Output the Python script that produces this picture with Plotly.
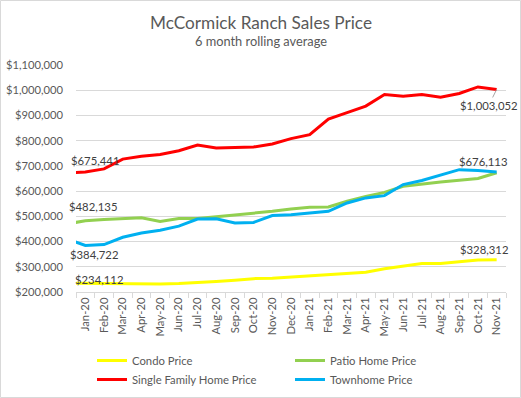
import plotly.graph_objects as go

# ---- data ----
months = ["Dec-19", "Jan-20", "Feb-20", "Mar-20", "Apr-20", "May-20", "Jun-20", "Jul-20",
          "Aug-20", "Sep-20", "Oct-20", "Nov-20", "Dec-20", "Jan-21", "Feb-21", "Mar-21",
          "Apr-21", "May-21", "Jun-21", "Jul-21", "Aug-21", "Sep-21", "Oct-21", "Nov-21"]
condo = [235000, 234112, 233000, 233000, 234000, 232000, 234000, 237000, 242000, 247000,
         253000, 255000, 259000, 265000, 268000, 273000, 278000, 292000, 302000, 313000,
         313000, 321000, 327000, 328312]
patio = [470000, 482135, 487000, 491000, 494000, 480000, 491000, 491000, 498000, 507000,
         511000, 520000, 529000, 536000, 537000, 560000, 579000, 595000, 619000, 628000,
         636000, 643000, 650000, 673000]
single = [672000, 675441, 688000, 727000, 738000, 745000, 760000, 783000, 771000, 774000,
          775000, 787000, 808000, 824000, 886000, 911000, 937000, 983000, 976000, 983000,
          972000, 987000, 1013000, 1003052]
town = [411000, 384722, 388000, 417000, 434000, 445000, 461000, 489000, 490000, 474000,
        476000, 503000, 506000, 512000, 520000, 553000, 573000, 582000, 626000, 642000,
        662000, 685000, 682000, 676113]

series_names = ["Condo Price", "Patio Home Price", "Single Family Home Price", "Townhome Price"]
series_values = [condo, patio, single, town]
colors = ["#FFFF00", "#92D050", "#FF0000", "#00B0F0"]

title = "McCormick Ranch Sales Price"
subtitle = "6 month rolling average"

FONT = "Lato, 'Open Sans', sans-serif"
W, H = 521, 398
ML, MR, MT, MB = 76, 15, 65, 106
PW, PH = W - ML - MR, H - MT - MB

def px_x(px):
    return (px - ML) / PW

def px_y(py):
    return (H - MB - py) / PH

fig = go.Figure()
for name, vals, col in zip(series_names, series_values, colors):
    fig.add_trace(go.Scatter(x=months, y=vals, name=name, mode="lines",
                             line=dict(color=col, width=3)))

LBL = dict(family=FONT, size=11.3, color="#404040")
# data labels: (series index, month index, xshift, yshift, xanchor)
label_specs = [
    (2, 1, -16, 12, "left"),
    (1, 1, -18, 14, "left"),
    (3, 1, -17, -9, "left"),
    (0, 1, -12, 4, "left"),
    (3, 23, 12, 10, "right"),
    (0, 23, 13, 10, "right"),
]
ann = []
for si, mi, xs, ys, xa in label_specs:
    v = series_values[si][mi]
    ann.append(dict(x=months[mi], y=v, xref="x", yref="y", text=f"${v:,.0f}",
                    showarrow=False, xanchor=xa, yanchor="middle", xshift=xs, yshift=ys,
                    font=LBL))
# single family end label with leader line
v = single[-1]
ann.append(dict(x=months[-1], y=v, xref="x", yref="y", text=f"${v:,.0f}",
                showarrow=True, arrowhead=0, arrowwidth=1, arrowcolor="#A6A6A6",
                ax=-8, ay=16, font=LBL))

ann.append(dict(x=px_x(260.5), y=px_y(22), xref="paper", yref="paper", text=title,
                showarrow=False, xanchor="center", yanchor="middle",
                font=dict(family=FONT, size=17.2, color="#595959")))
ann.append(dict(x=px_x(260.5), y=px_y(41), xref="paper", yref="paper", text=subtitle,
                showarrow=False, xanchor="center", yanchor="middle",
                font=dict(family=FONT, size=12.8, color="#595959")))

fig.update_layout(
    width=W, height=H,
    margin=dict(l=ML, r=MR, t=MT, b=MB, autoexpand=False),
    paper_bgcolor="white", plot_bgcolor="white",
    font=dict(family=FONT, size=11.3, color="#595959"),
    showlegend=True,
    legend=dict(orientation="h", x=px_x(92), y=px_y(346), xanchor="left", yanchor="top",
                entrywidth=153, entrywidthmode="pixels", itemwidth=30,
                font=dict(family=FONT, size=11.3, color="#595959"),
                bgcolor="rgba(0,0,0,0)"),
    annotations=ann,
    shapes=[dict(type="rect", xref="paper", yref="paper",
                 x0=px_x(0.5), x1=px_x(520.5), y0=px_y(397.5), y1=px_y(0.5),
                 line=dict(color="#D9D9D9", width=1), layer="below")],
)
fig.update_xaxes(type="category", range=[0.5, 23.5], tickson="boundaries",
                 ticks="outside", ticklen=5, tickcolor="#D9D9D9", tickangle=-90,
                 showline=True, linecolor="#D9D9D9", linewidth=1, showgrid=False,
                 automargin=False,
                 tickfont=dict(family=FONT, size=11.3, color="#595959"), zeroline=False)
fig.update_yaxes(range=[200000, 1100000], dtick=100000, tickformat="$,.0f",
                 showgrid=True, gridcolor="#D9D9D9", gridwidth=1, zeroline=False,
                 showline=False, ticks="", ticklabelstandoff=12, automargin=False,
                 tickfont=dict(family=FONT, size=11.2, color="#595959"))

fig.write_html("out.html", config={"displayModeBar": False},
               post_script="document.body.style.margin='0';document.body.style.overflow='hidden';")
